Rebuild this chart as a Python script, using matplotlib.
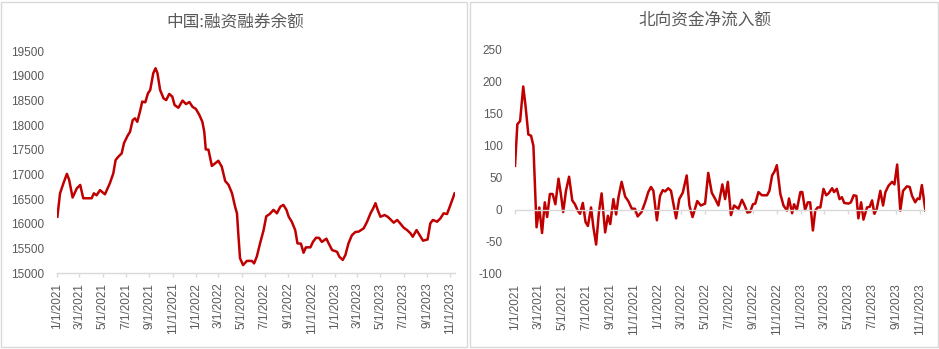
#!/usr/bin/env python3
# -*- coding: utf-8 -*-
"""
两融余额与北向资金走势图
左：融资融券余额（亿元），右：北向资金周度净流入额（亿元）
"""
import pandas as pd
import matplotlib
matplotlib.use('Agg')
import matplotlib.pyplot as plt
import matplotlib.dates as mdates
from matplotlib.patches import Rectangle

plt.rcParams['font.family'] = ['Liberation Sans', 'Noto Sans CJK SC', 'DejaVu Sans']
plt.rcParams['axes.unicode_minus'] = False

# ========== 数据 ==========
margin_dates = [
    '2021-01-02', '2021-01-09', '2021-01-18', '2021-01-27', '2021-02-02', '2021-02-11',
    '2021-02-22', '2021-03-03', '2021-03-11', '2021-04-02', '2021-04-08', '2021-04-15',
    '2021-04-24', '2021-05-07', '2021-05-20', '2021-05-29', '2021-06-04', '2021-06-11',
    '2021-06-20', '2021-06-26', '2021-07-05', '2021-07-12', '2021-07-19', '2021-07-25',
    '2021-07-31', '2021-08-07', '2021-08-13', '2021-08-21', '2021-08-28', '2021-09-03',
    '2021-09-11', '2021-09-17', '2021-09-22', '2021-09-29', '2021-10-08', '2021-10-15',
    '2021-10-23', '2021-10-31', '2021-11-06', '2021-11-16', '2021-11-27', '2021-12-06',
    '2021-12-15', '2021-12-23', '2022-01-01', '2022-01-10', '2022-01-18', '2022-01-23',
    '2022-01-27', '2022-02-03', '2022-02-12', '2022-02-21', '2022-03-01', '2022-03-10',
    '2022-03-19', '2022-03-28', '2022-04-06', '2022-04-14', '2022-04-19', '2022-04-23',
    '2022-04-27', '2022-05-05', '2022-05-15', '2022-05-28', '2022-06-03', '2022-06-10',
    '2022-06-19', '2022-06-28', '2022-07-05', '2022-07-14', '2022-07-24', '2022-08-02',
    '2022-08-11', '2022-08-19', '2022-08-27', '2022-09-02', '2022-09-10', '2022-09-19',
    '2022-09-25', '2022-10-04', '2022-10-11', '2022-10-17', '2022-10-29', '2022-11-05',
    '2022-11-13', '2022-11-21', '2022-11-28', '2022-12-10', '2022-12-16', '2022-12-25',
    '2023-01-07', '2023-01-13', '2023-01-22', '2023-01-29', '2023-02-06', '2023-02-15',
    '2023-02-24', '2023-03-05', '2023-03-11', '2023-03-18', '2023-03-27', '2023-04-05',
    '2023-04-12', '2023-04-18', '2023-04-24', '2023-05-01', '2023-05-12', '2023-05-20',
    '2023-05-27', '2023-06-05', '2023-06-14', '2023-06-22', '2023-07-01', '2023-07-10',
    '2023-07-19', '2023-07-25', '2023-08-04', '2023-08-12', '2023-08-21', '2023-09-02',
    '2023-09-09', '2023-09-16', '2023-09-27', '2023-10-06', '2023-10-14', '2023-10-23',
    '2023-11-01', '2023-11-12',
]
margin_values = [
    16140, 16615, 16820, 17010, 16885, 16530,
    16715, 16785, 16515, 16515, 16615, 16575,
    16680, 16595, 16820, 17020, 17290, 17355,
    17425, 17630, 17775, 17865, 18100, 18135,
    18065, 18270, 18475, 18460, 18640, 18710,
    19050, 19150, 19050, 18710, 18540, 18505,
    18630, 18575, 18405, 18350, 18495, 18425,
    18465, 18370, 18325, 18205, 18065, 17865,
    17505, 17500, 17170, 17225, 17275, 17155,
    16865, 16785, 16615, 16345, 16210, 15735,
    15300, 15160, 15245, 15245, 15195, 15330,
    15610, 15870, 16150, 16195, 16280, 16210,
    16345, 16380, 16280, 16140, 16040, 15870,
    15600, 15595, 15410, 15520, 15520, 15635,
    15715, 15710, 15630, 15695, 15600, 15465,
    15430, 15330, 15265, 15365, 15600, 15765,
    15830, 15840, 15870, 15905, 16040, 16210,
    16310, 16415, 16275, 16140, 16175, 16140,
    16090, 16020, 16075, 16005, 15920, 15870,
    15805, 15735, 15870, 15770, 15655, 15680,
    16005, 16075, 16040, 16110, 16210, 16195,
    16380, 16615,
]

north_dates = [
    '2021-01-01', '2021-01-07', '2021-01-14', '2021-01-22', '2021-01-28', '2021-02-04',
    '2021-02-11', '2021-02-17', '2021-02-21', '2021-02-25', '2021-03-04', '2021-03-11',
    '2021-03-18', '2021-03-24', '2021-03-31', '2021-04-07', '2021-04-14', '2021-04-22',
    '2021-04-28', '2021-05-04', '2021-05-11', '2021-05-19', '2021-05-27', '2021-06-03',
    '2021-06-10', '2021-06-16', '2021-06-23', '2021-06-30', '2021-07-06', '2021-07-14',
    '2021-07-20', '2021-07-27', '2021-08-03', '2021-08-10', '2021-08-19', '2021-08-26',
    '2021-09-01', '2021-09-09', '2021-09-16', '2021-09-22', '2021-09-30', '2021-10-09',
    '2021-10-17', '2021-10-26', '2021-11-03', '2021-11-10', '2021-11-20', '2021-11-29',
    '2021-12-07', '2021-12-14', '2021-12-20', '2021-12-29', '2022-01-06', '2022-01-13',
    '2022-01-19', '2022-01-27', '2022-02-03', '2022-02-16', '2022-02-24', '2022-03-05',
    '2022-03-15', '2022-03-22', '2022-03-30', '2022-04-11', '2022-04-20', '2022-05-01',
    '2022-05-09', '2022-05-18', '2022-05-27', '2022-06-04', '2022-06-14', '2022-06-21',
    '2022-06-28', '2022-07-06', '2022-07-14', '2022-07-25', '2022-08-03', '2022-08-10',
    '2022-08-17', '2022-08-24', '2022-08-31', '2022-09-06', '2022-09-14', '2022-09-23',
    '2022-10-06', '2022-10-12', '2022-10-19', '2022-10-25', '2022-10-31', '2022-11-09',
    '2022-11-17', '2022-11-26', '2022-12-01', '2022-12-09', '2022-12-14', '2022-12-21',
    '2022-12-30', '2023-01-04', '2023-01-11', '2023-01-18', '2023-01-24', '2023-01-31',
    '2023-02-06', '2023-02-12', '2023-02-19', '2023-02-27', '2023-03-06', '2023-03-12',
    '2023-03-21', '2023-03-26', '2023-04-02', '2023-04-09', '2023-04-15', '2023-04-21',
    '2023-05-02', '2023-05-08', '2023-05-15', '2023-05-22', '2023-05-27', '2023-06-03',
    '2023-06-09', '2023-06-18', '2023-06-25', '2023-07-01', '2023-07-07', '2023-07-13',
    '2023-07-22', '2023-07-29', '2023-08-04', '2023-08-12', '2023-08-21', '2023-08-27',
    '2023-09-03', '2023-09-11', '2023-09-18', '2023-09-28', '2023-10-05', '2023-10-11',
    '2023-10-19', '2023-10-25', '2023-10-30', '2023-11-05', '2023-11-14',
]
north_values = [
    69, 134, 139, 193, 162, 118,
    116, 100, 38, -27, 4, -36,
    12, -11, 25, 25, 9, 49,
    25, -3, 30, 52, 15, 9,
    -1, -6, 11, -19, -25, 4,
    -27, -54, -4, 26, -35, -9,
    -22, 17, -7, 20, 44, 21,
    14, 2, 2, -10, -3, 12,
    28, 36, 30, -16, 22, 31,
    29, 34, 30, -13, 17, 27,
    54, 7, -11, 14, 7, 10,
    58, 27, 17, 7, 40, 17,
    44, -8, 7, 2, 16, 7,
    -4, -3, 9, 10, 28, 23,
    23, 30, 54, 60, 70, 25,
    7, -1, 18, -5, 9, 0,
    28, 28, 0, 12, 12, -32,
    -1, 4, 4, 33, 23, 26,
    34, 28, 33, 17, 20, 11,
    10, 12, 23, 22, -13, 12,
    -15, 4, 5, 15, -6, 2,
    30, 7, 28, 38, 44, 40,
    71, -1, 30, 37, 36, 22,
    12, 18, 17, 39, -1,
]

LINE_COLOR = '#c00000'
TEXT_COLOR = '#595959'
AXIS_COLOR = '#d9d9d9'
X_START = pd.Timestamp('2021-01-01')
X_END = pd.Timestamp('2023-11-13')


def date_label(x, pos=None):
    d = mdates.num2date(x)
    return f"{d.month}/{d.day}/{d.year}"


def style_axis(ax, label_pad):
    """Excel 风格：无网格、无纵轴线，横轴浅灰"""
    for side in ('top', 'right', 'left'):
        ax.spines[side].set_visible(False)
    ax.spines['bottom'].set_color(AXIS_COLOR)
    ax.spines['bottom'].set_linewidth(1.0)
    ax.set_xlim(X_START, X_END)
    ax.xaxis.set_major_locator(mdates.MonthLocator(bymonth=[1, 3, 5, 7, 9, 11]))
    ax.xaxis.set_major_formatter(plt.FuncFormatter(date_label))
    ax.tick_params(axis='x', direction='out', length=3, width=1, color=AXIS_COLOR,
                   labelcolor=TEXT_COLOR, labelsize=8.5, labelrotation=90, pad=label_pad)
    ax.tick_params(axis='y', length=0, labelcolor=TEXT_COLOR, labelsize=8.5, pad=9)


fig = plt.figure(figsize=(9.39, 3.49), dpi=100)

# 图表外框
fig.patches.append(Rectangle((1 / 939, 2 / 349), 466 / 939, 345 / 349, transform=fig.transFigure,
                             fill=False, edgecolor=AXIS_COLOR, linewidth=1.0))
fig.patches.append(Rectangle((470 / 939, 2 / 349), 468 / 939, 345 / 349, transform=fig.transFigure,
                             fill=False, edgecolor=AXIS_COLOR, linewidth=1.0))

# ---------- 左：融资融券余额 ----------
ax1 = fig.add_axes([57 / 939, 76 / 349, 398 / 939, 222 / 349])
ax1.plot(pd.to_datetime(margin_dates), margin_values, color=LINE_COLOR, linewidth=1.8,
         solid_joinstyle='round')
ax1.set_ylim(15000, 19500)
ax1.set_yticks(range(15000, 19501, 500))
style_axis(ax1, label_pad=4)
fig.text(235 / 939, 1 - 22 / 349, '中国:融资融券余额', ha='center', va='center',
         fontsize=12, color=TEXT_COLOR, family=['Noto Sans CJK SC', 'DejaVu Sans'])

# ---------- 右：北向资金净流入额 ----------
ax2 = fig.add_axes([515 / 939, 75 / 349, 410 / 939, 224 / 349])
ax2.plot(pd.to_datetime(north_dates), north_values, color=LINE_COLOR, linewidth=1.8,
         solid_joinstyle='round')
ax2.set_ylim(-100, 250)
ax2.set_yticks(range(-100, 251, 50))
# 横轴与 0 线重合，日期标签放在图底部
ax2.spines['bottom'].set_position(('data', 0))
style_axis(ax2, label_pad=50)
fig.text(705 / 939, 1 - 20 / 349, '北向资金净流入额', ha='center', va='center',
         fontsize=12, color=TEXT_COLOR, family=['Noto Sans CJK SC', 'DejaVu Sans'])

fig.savefig('out.png', dpi=100, facecolor='white')
